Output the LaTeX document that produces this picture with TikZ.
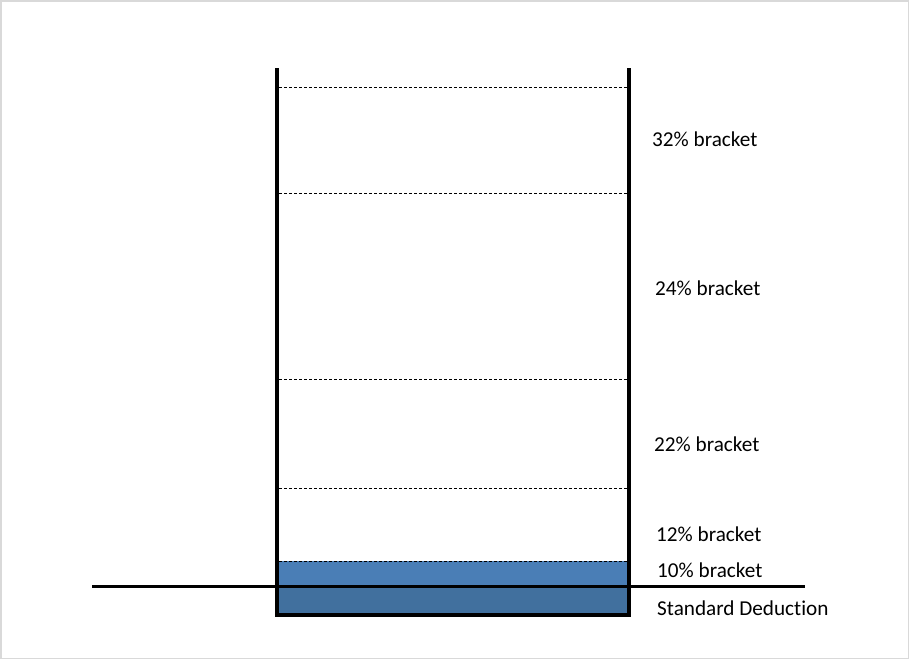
\documentclass[tikz,border=0pt]{standalone}
\usepackage{fontspec}
\setmainfont{Carlito}[Ligatures=NoCommon]
\definecolor{tenblue}{HTML}{4A7EB6}
\definecolor{deductblue}{HTML}{41709E}
\definecolor{frame}{HTML}{D9D9D9}
\tikzset{%
	% Specifications for style of lines and labels:
	wall/.style = {line width=4pt, line cap=rect},
	ground/.style = {line width=3pt},
	limit/.style = {dashed, line width=0.8pt, dash pattern=on 3pt off 2pt},
	bracket/.style = {anchor=west, font=\fontsize{21.2}{24}\selectfont, inner sep=0pt},
}

\begin{document}
\begin{tikzpicture}[x=1pt, y=-1pt]
		\useasboundingbox (0,0) rectangle (909,659);
		\draw[frame, line width=1.5pt] (0.75,0.75) rectangle (908.25,658.25);
		% Specification of fills (10% bracket and standard deduction)
		\fill[tenblue]    (277,561) rectangle (629,586);
		\fill[deductblue] (277,586) rectangle (629,615);
		% Bracket limits
		\foreach \y in {87,193,379,488,561}
			\draw[limit] (279,\y) -- (627,\y);
		% Container
		\draw[wall] (277,70) -- (277,615) -- (629,615) -- (629,70);
		\draw[ground] (92,586) -- (805,586);
		% Labels
		\node (b32)    [bracket] at (652,139) {32\% bracket};
		\node (b24)    [bracket] at (655,288) {24\% bracket};
		\node (b22)    [bracket] at (654,444) {22\% bracket};
		\node (b12)    [bracket] at (656,534) {12\% bracket};
		\node (b10)    [bracket] at (657,570) {10\% bracket};
		\node (deduct) [bracket] at (657,608) {Standard Deduction};
	\end{tikzpicture}
\end{document}
